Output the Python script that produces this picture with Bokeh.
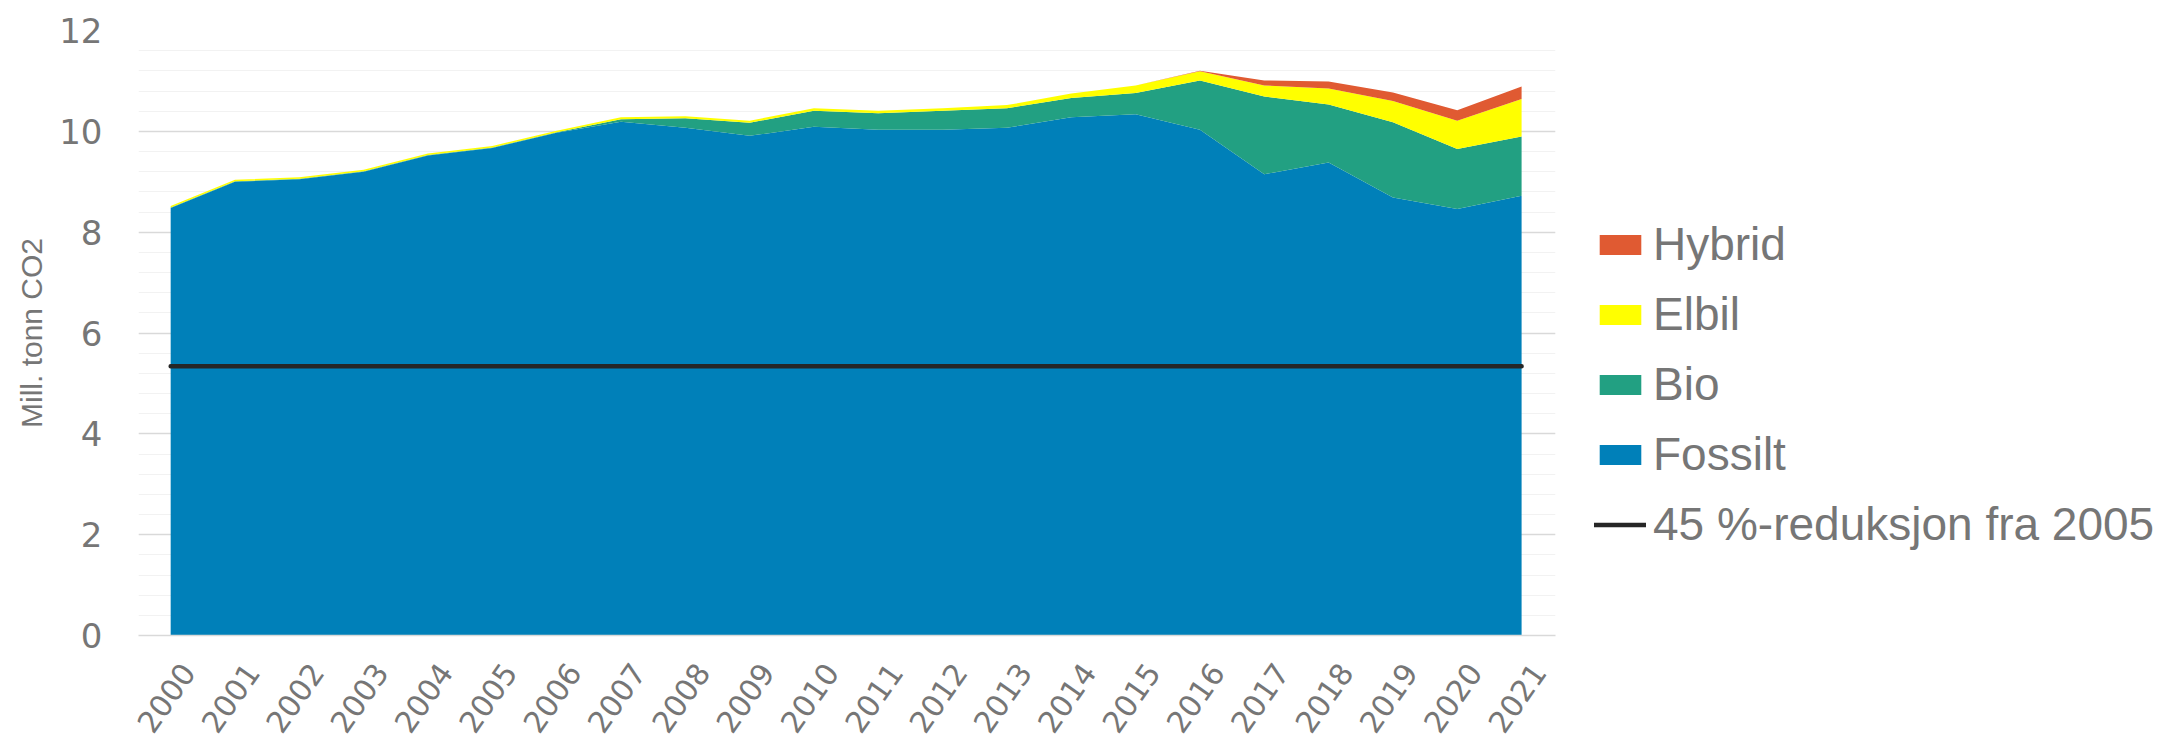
import math
from bokeh.plotting import figure
from bokeh.models import (ColumnDataSource, Range1d, FixedTicker, SingleIntervalTicker,
                          Legend, LegendItem)
from bokeh.embed import file_html
from bokeh.resources import INLINE

years = [2000, 2001, 2002, 2003, 2004, 2005, 2006, 2007, 2008, 2009, 2010,
         2011, 2012, 2013, 2014, 2015, 2016, 2017, 2018, 2019, 2020, 2021]
fossilt = [8.48, 9.00, 9.05, 9.20, 9.52, 9.67, 9.97, 10.19, 10.07, 9.91, 10.09,
           10.03, 10.03, 10.07, 10.28, 10.34, 10.03, 9.15, 9.38, 8.69, 8.46, 8.72]
bio = [0.01, 0.01, 0.01, 0.01, 0.01, 0.01, 0.01, 0.05, 0.19, 0.26, 0.32,
       0.33, 0.38, 0.39, 0.38, 0.42, 0.98, 1.54, 1.15, 1.49, 1.19, 1.18]
elbil = [0.03, 0.03, 0.03, 0.03, 0.03, 0.03, 0.03, 0.04, 0.04, 0.04, 0.05,
         0.05, 0.05, 0.06, 0.09, 0.15, 0.18, 0.22, 0.32, 0.42, 0.56, 0.74]
hybrid = [0.0, 0.0, 0.0, 0.0, 0.0, 0.0, 0.0, 0.0, 0.0, 0.0, 0.0,
          0.0, 0.0, 0.0, 0.0, 0.0, 0.01, 0.10, 0.14, 0.17, 0.21, 0.25]
series_names = ["Fossilt", "Bio", "Elbil", "Hybrid"]
series_colors = ["#0080B9", "#22A082", "#FFFF00", "#E05A32"]
line_label = "45 %-reduksjon fra 2005"
y_title = "Mill. tonn CO2"
year_labels = [str(y) for y in years]

# 45 % reduction relative to the 2005 total
i05 = years.index(2005)
total05 = fossilt[i05] + bio[i05] + elbil[i05] + hybrid[i05]
target = [round(total05 * 0.55, 2)] * len(years)

source = ColumnDataSource(dict(year=years, Fossilt=fossilt, Bio=bio, Elbil=elbil,
                               Hybrid=hybrid, target=target))

TXT = "#767676"
PX_PER_YEAR = 64.33
FRAME_W = 1417
FRAME_H = 605
LABEL_SHIFT = 0.27   # Excel centres its slanted year labels under the category

p = figure(frame_width=FRAME_W, frame_height=FRAME_H, output_backend="svg",
           toolbar_location=None,
           x_range=Range1d(1999.5, 1999.5 + FRAME_W / PX_PER_YEAR), y_range=Range1d(0, 12),
           min_border_left=138, min_border_right=608, min_border_top=30,
           min_border_bottom=112)
p.outline_line_color = None
p.background_fill_color = "white"

areas = p.varea_stack(series_names, x="year", color=series_colors, source=source)
ln = p.line(x="year", y="target", source=source, line_color="#262626", line_width=4.5,
            line_cap="round")

# x axis: slanted year labels
label_ticks = [y + LABEL_SHIFT for y in years]
p.xaxis.ticker = FixedTicker(ticks=label_ticks)
p.xaxis.major_label_overrides = {t: s for t, s in zip(label_ticks, year_labels)}
p.xaxis.major_label_orientation = math.radians(55)
p.xaxis.major_tick_line_color = None
p.xaxis.minor_tick_line_color = None
p.xaxis.axis_line_color = "#D9D9D9"
p.xaxis.axis_line_width = 1.5
p.xaxis.major_label_text_font = "DejaVu Sans"
p.xaxis.major_label_text_font_size = "30px"
p.xaxis.major_label_text_color = TXT
p.xaxis.major_label_standoff = 25

p.yaxis.ticker = SingleIntervalTicker(interval=2, num_minor_ticks=5)
p.yaxis.major_tick_line_color = None
p.yaxis.minor_tick_line_color = None
p.yaxis.axis_line_color = None
p.yaxis.major_label_text_font = "DejaVu Sans"
p.yaxis.major_label_text_font_size = "34px"
p.yaxis.major_label_text_color = TXT
p.yaxis.major_label_standoff = 30
p.yaxis.axis_label = y_title
p.yaxis.axis_label_text_font = "Liberation Sans"
p.yaxis.axis_label_text_font_size = "30px"
p.yaxis.axis_label_text_font_style = "normal"
p.yaxis.axis_label_text_color = TXT
p.yaxis.axis_label_standoff = 8

p.xgrid.grid_line_color = None
p.ygrid.grid_line_color = "#D9D9D9"
p.ygrid.grid_line_width = 1.5
p.ygrid.minor_grid_line_color = "#F2F2F2"
p.ygrid.minor_grid_line_width = 1.2
p.ygrid.level = "underlay"

items = [LegendItem(label="Hybrid", renderers=[areas[3]]),
         LegendItem(label="Elbil", renderers=[areas[2]]),
         LegendItem(label="Bio", renderers=[areas[1]]),
         LegendItem(label="Fossilt", renderers=[areas[0]]),
         LegendItem(label=line_label, renderers=[ln])]
legend = Legend(items=items, location=(39, 84), margin=0, padding=0,
                border_line_color=None, background_fill_alpha=0,
                glyph_width=52, glyph_height=25, label_standoff=7, spacing=16,
                label_text_font="Liberation Sans", label_text_font_size="46px",
                label_text_color=TXT)
p.add_layout(legend, "right")

open("out.html", "w").write(file_html(p, INLINE))
